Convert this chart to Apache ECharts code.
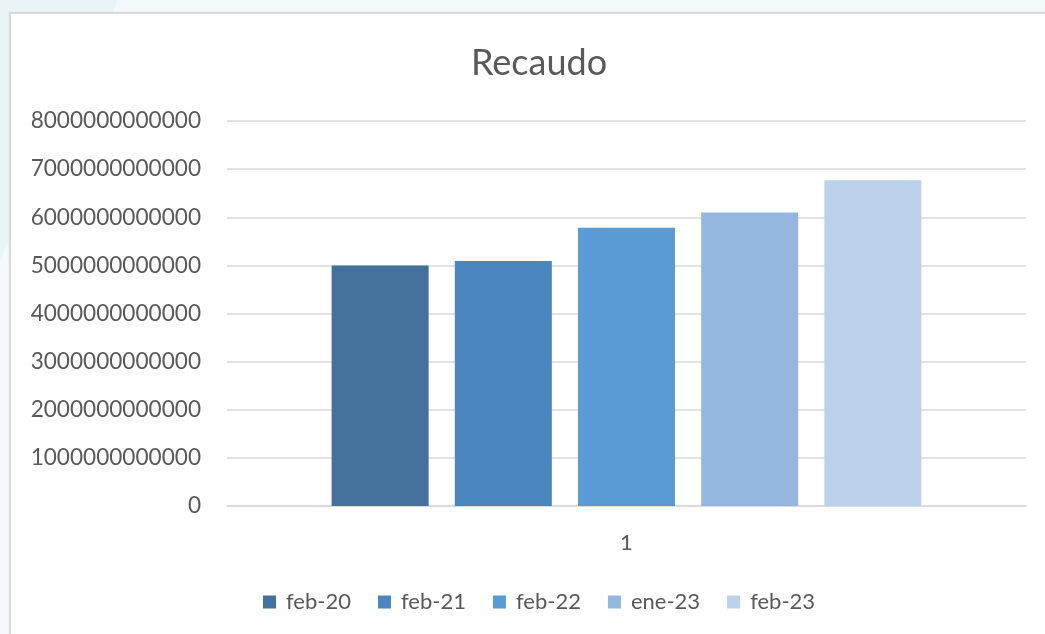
<!DOCTYPE html>
<html>
<head>
<meta charset="utf-8">
<title>Recaudo</title>
<script src="https://cdn.jsdelivr.net/npm/echarts@6/dist/echarts.min.js"></script>
<style>
  html, body { margin: 0; padding: 0; }
  body {
    width: 1045px; height: 634px; overflow: hidden; position: relative;
    background: #f4fafb;
  }
  #tint {
    position: absolute; left: 0; top: 0; width: 140px; height: 634px;
    background: #e8f4f6;
    clip-path: polygon(0 0, 118px 0, 0 260px);
  }
  #frame {
    position: absolute; left: 9px; top: 12px; width: 1050px; height: 640px;
    background: #ffffff;
    border-left: 2px solid #d9d9d9; border-top: 2px solid #d9d9d9;
    box-shadow: 0 0 2px rgba(0,0,0,0.08);
  }
  #chart { position: absolute; left: 0; top: 0; width: 1045px; height: 634px; }
</style>
</head>
<body>
<div id="tint"></div>
<div id="frame"></div>
<div id="chart"></div>
<script>
// Recaudo por periodo
const categories = ['1'];
const seriesNames = ['feb-20', 'feb-21', 'feb-22', 'ene-23', 'feb-23'];
const seriesValues = [5.00e12, 5.09e12, 5.78e12, 6.10e12, 6.77e12];
const seriesColors = ['#43719c', '#4b86bf', '#5b9bd5', '#95b7df', '#bcd0ea'];

const axisMin = 0;
const axisMax = 8e12;
const axisStep = 1e12;

const FONT = 'Lato, "Open Sans", sans-serif';
const TEXT = '#595959';

const chart = echarts.init(document.getElementById('chart'), null, { renderer: 'canvas' });

const series = seriesNames.map((name, i) => ({
  name: name,
  type: 'bar',
  data: [seriesValues[i]],
  barWidth: 97,
  barGap: '27%',
  itemStyle: { color: seriesColors[i] },
  emphasis: { disabled: true }
}));

chart.setOption({
  backgroundColor: 'transparent',
  animation: false,
  title: {
    text: 'Recaudo',
    left: 534,
    textAlign: 'center',
    top: 40,
    textStyle: { fontFamily: FONT, fontSize: 36, fontWeight: 'normal', color: TEXT }
  },
  legend: {
    data: seriesNames,
    left: 258,
    top: 586,
    icon: 'rect',
    itemWidth: 13,
    itemHeight: 13,
    itemGap: 27,
    textStyle: { fontFamily: FONT, fontSize: 22, color: TEXT, padding: [0, 0, 0, 5] }
  },
  grid: { left: 227, right: 19, top: 121, bottom: 128, containLabel: false },
  xAxis: {
    type: 'category',
    data: categories,
    axisLine: { show: true, lineStyle: { color: '#d9d9d9', width: 1.5 } },
    axisTick: { show: false },
    axisLabel: { fontFamily: FONT, fontSize: 22, color: TEXT, margin: 26 }
  },
  yAxis: {
    type: 'value',
    min: axisMin,
    max: axisMax,
    interval: axisStep,
    axisLine: { show: false },
    axisTick: { show: false },
    splitLine: { lineStyle: { color: '#d9d9d9', width: 1.5 } },
    axisLabel: {
      fontFamily: FONT, fontSize: 22.6, color: TEXT, margin: 26,
      formatter: v => String(Math.round(v))
    }
  },
  series: series
});
</script>
</body>
</html>
